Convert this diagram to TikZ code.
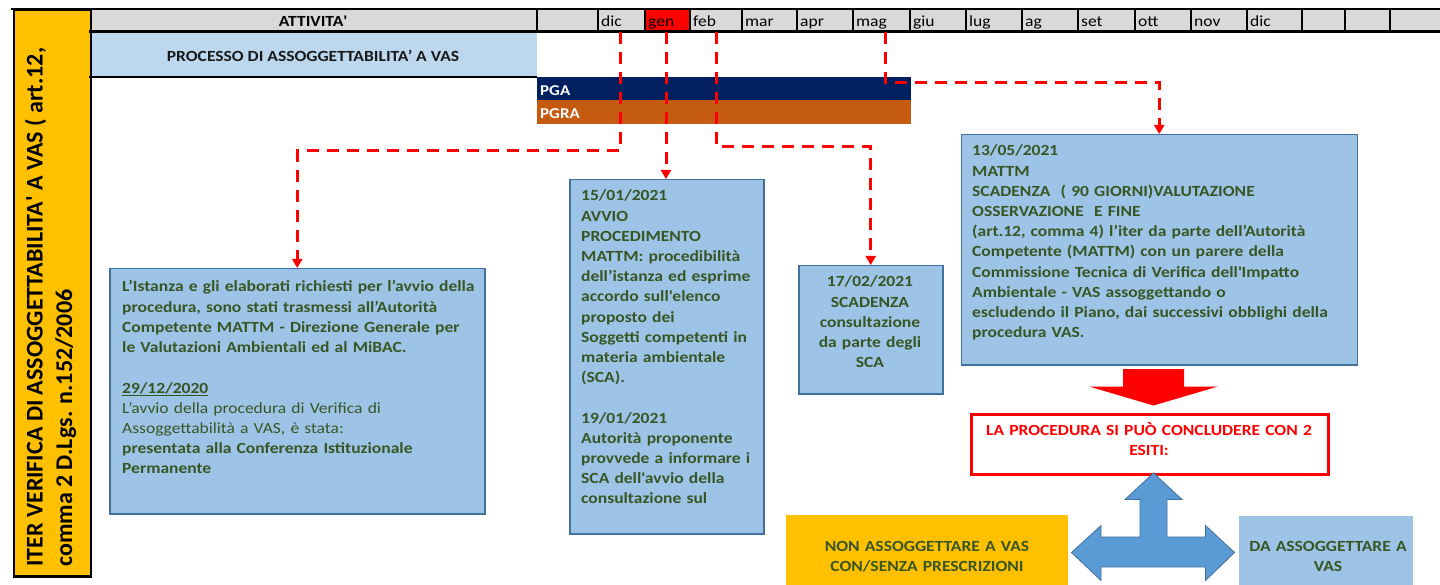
\documentclass[tikz,border=0pt]{standalone}
\usepackage{fontspec}
\setmainfont{Carlito}[FakeStretch=1.13]
\newfontfamily\vfont{Carlito}
\usetikzlibrary{arrows.meta}
\definecolor{ygold}{HTML}{FFC000}
\definecolor{hdrgray}{HTML}{D9D9D9}
\definecolor{rowblue}{HTML}{BDD7EE}
\definecolor{boxblue}{HTML}{9DC3E6}
\definecolor{boxedge}{HTML}{41719C}
\definecolor{navy}{HTML}{002060}
\definecolor{rust}{HTML}{C55A11}
\definecolor{txtgreen}{HTML}{375623}
\definecolor{arrblue}{HTML}{5B9BD5}
\definecolor{vred}{HTML}{FF0000}
\newcommand{\sq}{\textquotesingle}
\begin{document}
\begin{tikzpicture}[x=1pt,y=-1pt,
  bodyfont/.style={font=\fontsize{15.5}{20.2}\selectfont\bfseries},
  infobox/.style={draw=boxedge, line width=1.5pt, fill=boxblue, anchor=north west, inner sep=0pt},
  infotext/.style={bodyfont, text=txtgreen, anchor=base west, align=left, inner sep=0pt},
  centertext/.style={bodyfont, text=txtgreen, anchor=base, align=center, inner sep=0pt},
  month/.style={font=\fontsize{15.5}{18}\selectfont, anchor=base west, inner sep=0pt},
  dashlink/.style={draw=vred, line width=3pt, dash pattern=on 12pt off 8pt, -{Triangle[width=10pt,length=9pt]}},
  gridline/.style={line width=1.2pt},
  thickline/.style={line width=2.5pt},
  plainrect/.style={anchor=north west, inner sep=0pt, draw=none},
  vlabel/.style={font=\vfont\bfseries\fontsize{24}{30}\selectfont, rotate=90, anchor=base west, inner sep=0pt},
]
\useasboundingbox (0,0) rectangle (1440,585);
\fill[white] (0,0) rectangle (1440,585);

% header row
\fill[hdrgray] (89,9) rectangle (1440,31.5);
\fill[vred] (645,9) rectangle (690,31.5);
% processo row
\node[plainrect, fill=rowblue, minimum width=448pt, minimum height=45.5pt] (proc) at (89,31.5) {};
% bars
\node[plainrect, fill=navy, minimum width=374pt, minimum height=23pt] (pga) at (537,77) {};
\node[plainrect, fill=rust, minimum width=374pt, minimum height=24pt] (pgra) at (537,100) {};

% left vertical label box
\node[plainrect, draw=black, line width=2.5pt, fill=ygold, minimum width=77pt, minimum height=566pt] (side) at (12.5,9) {};
\node[vlabel] (vt1) at (42.5,567) {ITER VERIFICA DI ASSOGGETTABILITA\sq{} A VAS ( art.12,};
\node[vlabel] (vt2) at (72,567) {comma 2 D.Lgs. n.152/2006};

% grid lines
\draw[thickline] (11.25,9) -- (1440,9);
\draw[thickline] (89,31.5) -- (1440,31.5);
\draw[line width=2pt] (89,77) -- (537,77);
\draw[line width=2pt] (537,9) -- (537,31.5);
\foreach \gx in {598,645,690,742,797,853,910,966,1022,1078,1135,1191,1247,1302,1345,1390}
  \draw[gridline] (\gx,9) -- (\gx,31.5);

% header texts
\node[font=\fontsize{15.5}{18}\selectfont\bfseries, anchor=base, inner sep=0pt] (att) at (313,26.5) {ATTIVITA\sq};
\node[month] (m1) at (601,26.5) {dic};
\node[month] (m2) at (648,26.5) {gen};
\node[month] (m3) at (693,26.5) {feb};
\node[month] (m4) at (745,26.5) {mar};
\node[month] (m5) at (800,26.5) {apr};
\node[month] (m6) at (856,26.5) {mag};
\node[month] (m7) at (913,26.5) {giu};
\node[month] (m8) at (969,26.5) {lug};
\node[month] (m9) at (1025,26.5) {ag};
\node[month] (m10) at (1081,26.5) {set};
\node[month] (m11) at (1138,26.5) {ott};
\node[month] (m12) at (1194,26.5) {nov};
\node[month] (m13) at (1250,26.5) {dic};

\node[font=\fontsize{15.5}{18}\selectfont\bfseries, text=black!90, anchor=base, inner sep=0pt] (proct) at (313,61.5) {PROCESSO DI ASSOGGETTABILITA’ A VAS};
\node[font=\fontsize{15}{18}\selectfont\bfseries, text=white, anchor=base west, inner sep=0pt] (pgat) at (540,96) {PGA};
\node[font=\fontsize{15}{18}\selectfont\bfseries, text=white, anchor=base west, inner sep=0pt] (pgrat) at (540,119) {PGRA};

% info boxes
\node[infobox, minimum width=375pt, minimum height=245pt] (b1) at (109,268) {};
\node[infotext, text width=372pt] (b1t) at (122,292) {L’Istanza e gli elaborati richiesti per l’avvio della\\
procedura, sono stati trasmessi all’Autorità\\
Competente MATTM - Direzione Generale per\\
le Valutazioni Ambientali ed al MiBAC.\\[20.2pt]
\underline{29/12/2020}\\
{\mdseries L’avvio della procedura di Verifica di}\\
{\mdseries Assoggettabilità a VAS, è stata:}\\
presentata alla Conferenza Istituzionale\\
Permanente};

\node[infobox, minimum width=194pt, minimum height=354pt] (b2) at (569,179) {};
\node[infotext, text width=190pt] (b2t) at (581,201) {15/01/2021\\
AVVIO\\
PROCEDIMENTO\\
MATTM: procedibilità\\
dell’istanza ed esprime\\
accordo sull\sq elenco\\
proposto dei\\
Soggetti competenti in\\
materia ambientale\\
(SCA).\\[20.2pt]
19/01/2021\\
Autorità proponente\\
provvede a informare i\\
SCA dell\sq avvio della\\
consultazione sul};

\node[infobox, minimum width=144pt, minimum height=128pt] (b3) at (798,265) {};
\node[centertext, text width=140pt] (b3t) at (870,287) {17/02/2021\\
SCADENZA\\
consultazione\\
da parte degli\\
SCA};

\node[infobox, minimum width=396pt, minimum height=230pt] (b4) at (960.5,134) {};
\node[infotext, text width=380pt] (b4t) at (972,156) {13/05/2021\\
MATTM\\
SCADENZA\ \ ( 90 GIORNI)VALUTAZIONE\\
OSSERVAZIONE\ \ E FINE\\
(art.12, comma 4) l’iter da parte dell’Autorità\\
Competente (MATTM) con un parere della\\
Commissione Tecnica di Verifica dell\sq Impatto\\
Ambientale - VAS assoggettando o\\
escludendo il Piano, dai successivi obblighi della\\
procedura VAS.};

% red block arrow
\fill[vred] (1123,369) -- (1184,369) -- (1184,386.5) -- (1218,386.5) -- (1153.5,405.5) -- (1089,386.5) -- (1123,386.5) -- cycle;

% result box
\node[plainrect, draw=vred, line width=3pt, fill=white, minimum width=357pt, minimum height=60pt] (res) at (970,412.5) {};
\node[bodyfont, text=vred, anchor=base, align=center, inner sep=0pt, text width=350pt] (rest) at (1149,435) {LA PROCEDURA SI PUÒ CONCLUDERE CON 2\\ESITI:};

% three way arrow
\filldraw[fill=arrblue, draw=boxedge, line width=0.8pt]
  (1153.5,473) -- (1182,499.5) -- (1167,499.5) -- (1167,537) -- (1205.5,537) -- (1205.5,525.5)
  -- (1234.5,552.5) -- (1205.5,580.5) -- (1205.5,567) -- (1101,567) -- (1101,580.5)
  -- (1071.5,552.5) -- (1101,525.5) -- (1101,537) -- (1140,537) -- (1140,499.5) -- (1125,499.5) -- cycle;

% outcome boxes
\node[plainrect, fill=ygold, minimum width=282pt, minimum height=75pt] (nonv) at (786,515) {};
\node[centertext, text width=280pt] (nonvt) at (927,551) {NON ASSOGGETTARE A VAS\\CON/SENZA PRESCRIZIONI};
\node[plainrect, fill=boxblue, minimum width=174pt, minimum height=75pt] (dav) at (1239,516) {};
\node[centertext, text width=172pt] (davt) at (1328,551) {DA ASSOGGETTARE A\\VAS};

% dashed connectors
\coordinate (cdic) at (620,32.5);
\coordinate (cgen) at (666,32.5);
\coordinate (cfeb) at (716.5,32.5);
\coordinate (cmag) at (885,32.5);
\draw[dashlink] (cdic) -- (cdic |- 0,151) -| (b1.north);
\draw[dashlink] (cgen) -- (cgen |- b2.north);
\draw[dashlink] (cfeb) -- (cfeb |- 0,147) -| (b3.north);
\draw[dashlink] (cmag) -- (cmag |- 0,83) -| (b4.north);
\end{tikzpicture}
\end{document}
